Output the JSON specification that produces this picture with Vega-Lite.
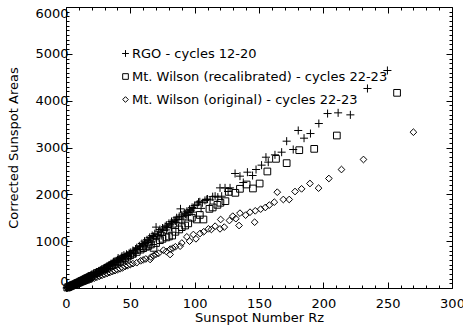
{
 "$schema": "https://vega.github.io/schema/vega-lite/v6.json",
 "width": 386, "height": 281, "autosize": "none",
 "padding": {"left": 66, "top": 7, "right": 11, "bottom": 41},
 "background": "white",
 "config": {
  "view": {"stroke": null},
  "font": "DejaVu Sans",
  "axis": {"domainColor": "black", "tickColor": "black", "labelColor": "black", "titleColor": "black", "grid": false, "labelFont": "DejaVu Sans", "titleFont": "DejaVu Sans", "labelFontSize": 13, "titleFontSize": 13, "titleFontWeight": "normal", "domainWidth": 1, "tickWidth": 1}
 },
 "datasets": {
  "pts": [
   {"s":"a","x":0.5,"y":0},{"s":"a","x":1,"y":10},{"s":"a","x":1.5,"y":20},{"s":"a","x":2,"y":25},{"s":"a","x":2.5,"y":15},{"s":"a","x":3,"y":40},{"s":"a","x":3.5,"y":30},{"s":"a","x":4,"y":45},{"s":"a","x":4.5,"y":60},{"s":"a","x":5,"y":55},{"s":"a","x":5.5,"y":70},{"s":"a","x":6,"y":65},{"s":"a","x":6.5,"y":80},{"s":"a","x":7,"y":90},{"s":"a","x":7.5,"y":85},{"s":"a","x":8,"y":100},{"s":"a","x":8.5,"y":95},{"s":"a","x":9,"y":115},{"s":"a","x":9.5,"y":110},{"s":"a","x":10,"y":125},{"s":"a","x":10.5,"y":140},{"s":"a","x":11,"y":130},{"s":"a","x":11.5,"y":150},{"s":"a","x":12,"y":145},{"s":"a","x":12.5,"y":160},{"s":"a","x":13,"y":170},{"s":"a","x":13.5,"y":165},{"s":"a","x":14,"y":185},{"s":"a","x":14.5,"y":180},{"s":"a","x":15,"y":200},{"s":"a","x":15.5,"y":195},{"s":"a","x":16,"y":215},{"s":"a","x":16.5,"y":205},{"s":"a","x":17,"y":225},{"s":"a","x":17.5,"y":240},{"s":"a","x":18,"y":230},{"s":"a","x":18.5,"y":250},{"s":"a","x":19,"y":260},{"s":"a","x":19.5,"y":245},{"s":"a","x":20,"y":275},{"s":"a","x":21,"y":285},{"s":"a","x":21.5,"y":300},{"s":"a","x":22,"y":290},{"s":"a","x":23,"y":320},{"s":"a","x":23.5,"y":305},{"s":"a","x":24,"y":340},{"s":"a","x":25,"y":330},{"s":"a","x":25.5,"y":360},{"s":"a","x":26,"y":350},{"s":"a","x":27,"y":380},{"s":"a","x":27.5,"y":365},{"s":"a","x":28,"y":395},{"s":"a","x":29,"y":410},{"s":"a","x":29.5,"y":400},{"s":"a","x":30,"y":430},{"s":"a","x":31,"y":445},{"s":"a","x":31.5,"y":420},{"s":"a","x":32,"y":465},{"s":"a","x":33,"y":480},{"s":"a","x":34,"y":470},{"s":"a","x":34.5,"y":500},{"s":"a","x":35,"y":520},{"s":"a","x":36,"y":505},{"s":"a","x":36.5,"y":540},{"s":"a","x":37,"y":560},{"s":"a","x":38,"y":545},{"s":"a","x":39,"y":580},{"s":"a","x":40,"y":600},{"s":"a","x":40.5,"y":640},{"s":"a","x":41,"y":590},{"s":"a","x":42,"y":620},{"s":"a","x":43,"y":650},{"s":"a","x":43.5,"y":680},{"s":"a","x":44,"y":640},{"s":"a","x":45,"y":700},{"s":"a","x":46,"y":670},{"s":"a","x":47,"y":720},{"s":"a","x":48,"y":690},{"s":"a","x":49,"y":740},{"s":"a","x":50,"y":760},{"s":"a","x":51,"y":730},{"s":"a","x":52,"y":800},{"s":"a","x":53,"y":770},{"s":"a","x":54,"y":830},{"s":"a","x":55,"y":860},{"s":"a","x":56,"y":820},{"s":"a","x":57,"y":900},{"s":"a","x":58,"y":880},{"s":"a","x":59,"y":950},{"s":"a","x":60,"y":920},{"s":"a","x":61,"y":1000},{"s":"a","x":62,"y":970},{"s":"a","x":63,"y":1030},{"s":"a","x":64,"y":1010},{"s":"a","x":65,"y":1080},{"s":"a","x":66,"y":1050},{"s":"a","x":67,"y":1120},{"s":"a","x":68,"y":1100},{"s":"a","x":69,"y":1160},{"s":"a","x":70,"y":1300},{"s":"a","x":71,"y":1140},{"s":"a","x":72,"y":1200},{"s":"a","x":73,"y":1250},{"s":"a","x":74,"y":1180},{"s":"a","x":75,"y":1280},{"s":"a","x":76,"y":1230},{"s":"a","x":77,"y":1310},{"s":"a","x":78,"y":1340},{"s":"a","x":79,"y":1290},{"s":"a","x":80,"y":1380},{"s":"a","x":81,"y":1350},{"s":"a","x":82,"y":1420},{"s":"a","x":83,"y":1390},{"s":"a","x":84,"y":1450},{"s":"a","x":85,"y":1430},{"s":"a","x":86,"y":1500},{"s":"a","x":87,"y":1460},{"s":"a","x":88,"y":1530},{"s":"a","x":89,"y":1690},{"s":"a","x":90,"y":1560},{"s":"a","x":91,"y":1520},{"s":"a","x":92,"y":1600},{"s":"a","x":93,"y":1580},{"s":"a","x":94,"y":1640},{"s":"a","x":95,"y":1610},{"s":"a","x":96,"y":1680},{"s":"a","x":97,"y":1650},{"s":"a","x":98,"y":1720},{"s":"a","x":99,"y":1700},{"s":"a","x":100,"y":1760},{"s":"a","x":102,"y":1790},{"s":"a","x":103,"y":1833},{"s":"a","x":104,"y":1840},{"s":"a","x":106,"y":1820},{"s":"a","x":108,"y":1870},{"s":"a","x":109.4,"y":1890},{"s":"a","x":110,"y":1900},{"s":"a","x":112,"y":1880},{"s":"a","x":114,"y":1950},{"s":"a","x":115.9,"y":1960},{"s":"a","x":118,"y":1940},{"s":"a","x":119.7,"y":2138},{"s":"a","x":121,"y":1960},{"s":"a","x":123.6,"y":2138},{"s":"a","x":126,"y":2060},{"s":"a","x":127.5,"y":2138},{"s":"a","x":131.4,"y":2445},{"s":"a","x":135.2,"y":2388},{"s":"a","x":137.8,"y":2252},{"s":"a","x":141,"y":2473},{"s":"a","x":145,"y":2402},{"s":"a","x":147.7,"y":2530},{"s":"a","x":152,"y":2623},{"s":"a","x":155.4,"y":2793},{"s":"a","x":157.2,"y":2687},{"s":"a","x":162.4,"y":2843},{"s":"a","x":167.6,"y":2900},{"s":"a","x":171.5,"y":3135},{"s":"a","x":176.6,"y":2957},{"s":"a","x":180.5,"y":3363},{"s":"a","x":185,"y":3199},{"s":"a","x":190,"y":3298},{"s":"a","x":196.5,"y":3512},{"s":"a","x":203.3,"y":3725},{"s":"a","x":211.5,"y":3740},{"s":"a","x":221,"y":3697},{"s":"a","x":234.3,"y":4260},{"s":"a","x":249.8,"y":4644},
   {"s":"a","x":33,"y":420},{"s":"a","x":38,"y":500},{"s":"a","x":42,"y":560},{"s":"a","x":46,"y":620},{"s":"a","x":50,"y":680},{"s":"a","x":54,"y":740},{"s":"a","x":58,"y":820},{"s":"a","x":62,"y":900},{"s":"a","x":66,"y":980},{"s":"a","x":70,"y":1060},{"s":"a","x":74,"y":1120},{"s":"a","x":78,"y":1240},{"s":"a","x":82,"y":1300},{"s":"a","x":86,"y":1400},{"s":"a","x":90,"y":1470},{"s":"a","x":94,"y":1550},{"s":"a","x":98,"y":1620},{"s":"a","x":105,"y":1700},
   {"s":"b","x":1,"y":10},{"s":"b","x":2,"y":20},{"s":"b","x":3,"y":35},{"s":"b","x":4,"y":45},{"s":"b","x":5,"y":60},{"s":"b","x":6,"y":70},{"s":"b","x":7,"y":80},{"s":"b","x":8,"y":95},{"s":"b","x":9,"y":110},{"s":"b","x":10,"y":120},{"s":"b","x":11,"y":135},{"s":"b","x":12,"y":150},{"s":"b","x":13,"y":160},{"s":"b","x":14,"y":175},{"s":"b","x":15,"y":190},{"s":"b","x":16,"y":205},{"s":"b","x":17,"y":215},{"s":"b","x":18,"y":230},{"s":"b","x":19,"y":245},{"s":"b","x":20,"y":260},{"s":"b","x":22,"y":290},{"s":"b","x":24,"y":320},{"s":"b","x":26,"y":345},{"s":"b","x":28,"y":370},{"s":"b","x":30,"y":400},{"s":"b","x":32,"y":430},{"s":"b","x":34,"y":460},{"s":"b","x":36,"y":490},{"s":"b","x":38,"y":520},{"s":"b","x":40,"y":550},{"s":"b","x":42,"y":580},{"s":"b","x":44,"y":610},{"s":"b","x":46,"y":640},{"s":"b","x":48,"y":670},{"s":"b","x":50,"y":700},{"s":"b","x":52,"y":730},{"s":"b","x":55,"y":770},{"s":"b","x":58,"y":820},{"s":"b","x":60,"y":850},{"s":"b","x":62,"y":880},{"s":"b","x":64,"y":900},{"s":"b","x":66,"y":930},{"s":"b","x":68,"y":857},{"s":"b","x":70,"y":960},{"s":"b","x":73,"y":1021},{"s":"b","x":75,"y":1050},{"s":"b","x":78,"y":1080},{"s":"b","x":80,"y":1100},{"s":"b","x":82.5,"y":1120},{"s":"b","x":85,"y":1200},{"s":"b","x":88,"y":1250},{"s":"b","x":90,"y":1300},{"s":"b","x":92.6,"y":1334},{"s":"b","x":95,"y":1380},{"s":"b","x":97.8,"y":1500},{"s":"b","x":101.6,"y":1463},{"s":"b","x":104,"y":1560},{"s":"b","x":106.8,"y":1463},{"s":"b","x":111.5,"y":1690},{"s":"b","x":114,"y":1720},{"s":"b","x":117.7,"y":1776},{"s":"b","x":120,"y":1820},{"s":"b","x":123.9,"y":1854},{"s":"b","x":126.5,"y":2053},{"s":"b","x":131.6,"y":2032},{"s":"b","x":135.2,"y":2118},{"s":"b","x":140.4,"y":2210},{"s":"b","x":145.3,"y":2125},{"s":"b","x":150.5,"y":2231},{"s":"b","x":156.5,"y":2488},{"s":"b","x":163.2,"y":2758},{"s":"b","x":171.5,"y":2666},{"s":"b","x":181.3,"y":2943},{"s":"b","x":192.9,"y":2971},{"s":"b","x":210.5,"y":3256},{"s":"b","x":257.3,"y":4167},
   {"s":"c","x":1,"y":5},{"s":"c","x":2,"y":15},{"s":"c","x":3,"y":25},{"s":"c","x":4,"y":35},{"s":"c","x":5,"y":40},{"s":"c","x":6,"y":50},{"s":"c","x":7,"y":60},{"s":"c","x":8,"y":70},{"s":"c","x":9,"y":80},{"s":"c","x":10,"y":90},{"s":"c","x":11,"y":100},{"s":"c","x":12,"y":110},{"s":"c","x":13,"y":120},{"s":"c","x":14,"y":130},{"s":"c","x":15,"y":140},{"s":"c","x":16,"y":150},{"s":"c","x":17,"y":160},{"s":"c","x":18,"y":170},{"s":"c","x":19,"y":180},{"s":"c","x":20,"y":190},{"s":"c","x":22,"y":210},{"s":"c","x":24,"y":230},{"s":"c","x":26,"y":250},{"s":"c","x":28,"y":270},{"s":"c","x":30,"y":290},{"s":"c","x":32,"y":310},{"s":"c","x":34,"y":330},{"s":"c","x":36,"y":350},{"s":"c","x":38,"y":370},{"s":"c","x":40,"y":390},{"s":"c","x":42,"y":410},{"s":"c","x":44,"y":430},{"s":"c","x":46,"y":460},{"s":"c","x":48,"y":480},{"s":"c","x":50,"y":500},{"s":"c","x":52,"y":520},{"s":"c","x":55,"y":540},{"s":"c","x":58,"y":580},{"s":"c","x":60,"y":600},{"s":"c","x":62,"y":620},{"s":"c","x":65.4,"y":609},{"s":"c","x":66,"y":660},{"s":"c","x":68,"y":690},{"s":"c","x":70,"y":720},{"s":"c","x":72,"y":740},{"s":"c","x":75.8,"y":808},{"s":"c","x":78,"y":780},{"s":"c","x":80.9,"y":715},{"s":"c","x":81,"y":830},{"s":"c","x":83,"y":850},{"s":"c","x":85,"y":880},{"s":"c","x":88.7,"y":893},{"s":"c","x":90,"y":960},{"s":"c","x":93.9,"y":1092},{"s":"c","x":96,"y":1000},{"s":"c","x":99,"y":1142},{"s":"c","x":101,"y":1050},{"s":"c","x":104.2,"y":1164},{"s":"c","x":107,"y":1200},{"s":"c","x":110.7,"y":1263},{"s":"c","x":113,"y":1250},{"s":"c","x":115.9,"y":1320},{"s":"c","x":119.7,"y":1263},{"s":"c","x":120.2,"y":1463},{"s":"c","x":123,"y":1300},{"s":"c","x":127,"y":1441},{"s":"c","x":129.6,"y":1534},{"s":"c","x":132,"y":1480},{"s":"c","x":134.5,"y":1334},{"s":"c","x":135.2,"y":1598},{"s":"c","x":139.6,"y":1556},{"s":"c","x":143,"y":1619},{"s":"c","x":146.6,"y":1405},{"s":"c","x":147.1,"y":1648},{"s":"c","x":151.3,"y":1684},{"s":"c","x":154.9,"y":1719},{"s":"c","x":158,"y":1769},{"s":"c","x":161.9,"y":1833},{"s":"c","x":164.2,"y":2046},{"s":"c","x":168.9,"y":1890},{"s":"c","x":173.5,"y":1890},{"s":"c","x":178,"y":2060},{"s":"c","x":183.1,"y":2117},{"s":"c","x":189.6,"y":2231},{"s":"c","x":196.3,"y":2132},{"s":"c","x":204.3,"y":2338},{"s":"c","x":214.1,"y":2530},{"s":"c","x":231.2,"y":2744},{"s":"c","x":270,"y":3327}
  ]
 },
 "data": {"name": "pts"},
 "layer": [
  {
   "mark": {"type": "point", "filled": false, "strokeWidth": 1, "color": "black", "opacity": 1, "size": 45},
   "encoding": {
    "x": {"field": "x", "type": "quantitative", "scale": {"domain": [0, 300], "nice": false, "zero": false},
     "axis": {"orient": "bottom", "values": [0, 50, 100, 150, 200, 250, 300], "format": "d", "tickSize": -6, "labelPadding": 15, "title": "Sunspot Number Rz", "titlePadding": 1, "labelFlush": false}},
    "y": {"field": "y", "type": "quantitative", "scale": {"domain": [0, 6000], "nice": false, "zero": false},
     "axis": {"orient": "left", "values": [0, 1000, 2000, 3000, 4000, 5000, 6000], "format": "d", "tickSize": -6, "labelPadding": 4, "title": "Corrected Sunspot Areas", "titlePadding": 14, "labelFlush": 2}},
    "shape": {"field": "s", "type": "nominal",
     "scale": {"domain": ["a", "b", "c"], "range": ["M-1.2,0L1.2,0M0,-1.2L0,1.2", "square", "diamond"]},
     "legend": {"orient": "none", "legendX": 53, "legendY": 40, "title": null, "labelFontSize": 13, "labelFont": "DejaVu Sans", "labelColor": "black", "labelLimit": 0, "symbolStrokeColor": "black", "symbolFillColor": "transparent", "symbolStrokeWidth": 1, "symbolSize": 32, "labelOffset": 0, "rowPadding": 9,
      "labelExpr": "datum.label == 'a' ? 'RGO - cycles 12-20' : datum.label == 'b' ? 'Mt. Wilson (recalibrated) - cycles 22-23' : 'Mt. Wilson (original) - cycles 22-23'"}}
   }
  },
  {
   "transform": [{"filter": "datum.x < -1"}],
   "mark": {"type": "point"},
   "encoding": {
    "x": {"field": "x", "type": "quantitative", "axis": {"orient": "top", "values": [0, 50, 100, 150, 200, 250, 300], "tickSize": -6, "labels": false, "title": null}},
    "y": {"field": "y", "type": "quantitative", "axis": {"orient": "right", "values": [0, 1000, 2000, 3000, 4000, 5000, 6000], "tickSize": -6, "labels": false, "title": null}}
   }
  },
  {
   "transform": [{"filter": "datum.x < -1"}],
   "mark": {"type": "point"},
   "encoding": {
    "x": {"field": "x", "type": "quantitative", "axis": {"orient": "bottom", "values": [10,20,30,40,60,70,80,90,110,120,130,140,160,170,180,190,210,220,230,240,260,270,280,290], "tickSize": -3, "labels": false, "domain": false, "title": null}},
    "y": {"field": "y", "type": "quantitative", "axis": {"orient": "left", "values": [100,200,300,400,500,600,700,800,900,1100,1200,1300,1400,1500,1600,1700,1800,1900,2100,2200,2300,2400,2500,2600,2700,2800,2900,3100,3200,3300,3400,3500,3600,3700,3800,3900,4100,4200,4300,4400,4500,4600,4700,4800,4900,5100,5200,5300,5400,5500,5600,5700,5800,5900], "tickSize": -3, "labels": false, "domain": false, "title": null}}
   }
  },
  {
   "transform": [{"filter": "datum.x < -1"}],
   "mark": {"type": "point"},
   "encoding": {
    "x": {"field": "x", "type": "quantitative", "axis": {"orient": "top", "values": [10,20,30,40,60,70,80,90,110,120,130,140,160,170,180,190,210,220,230,240,260,270,280,290], "tickSize": -3, "labels": false, "domain": false, "title": null}},
    "y": {"field": "y", "type": "quantitative", "axis": {"orient": "right", "values": [100,200,300,400,500,600,700,800,900,1100,1200,1300,1400,1500,1600,1700,1800,1900,2100,2200,2300,2400,2500,2600,2700,2800,2900,3100,3200,3300,3400,3500,3600,3700,3800,3900,4100,4200,4300,4400,4500,4600,4700,4800,4900,5100,5200,5300,5400,5500,5600,5700,5800,5900], "tickSize": -3, "labels": false, "domain": false, "title": null}}
   }
  }
 ],
 "resolve": {"axis": {"x": "independent", "y": "independent"}}
}
